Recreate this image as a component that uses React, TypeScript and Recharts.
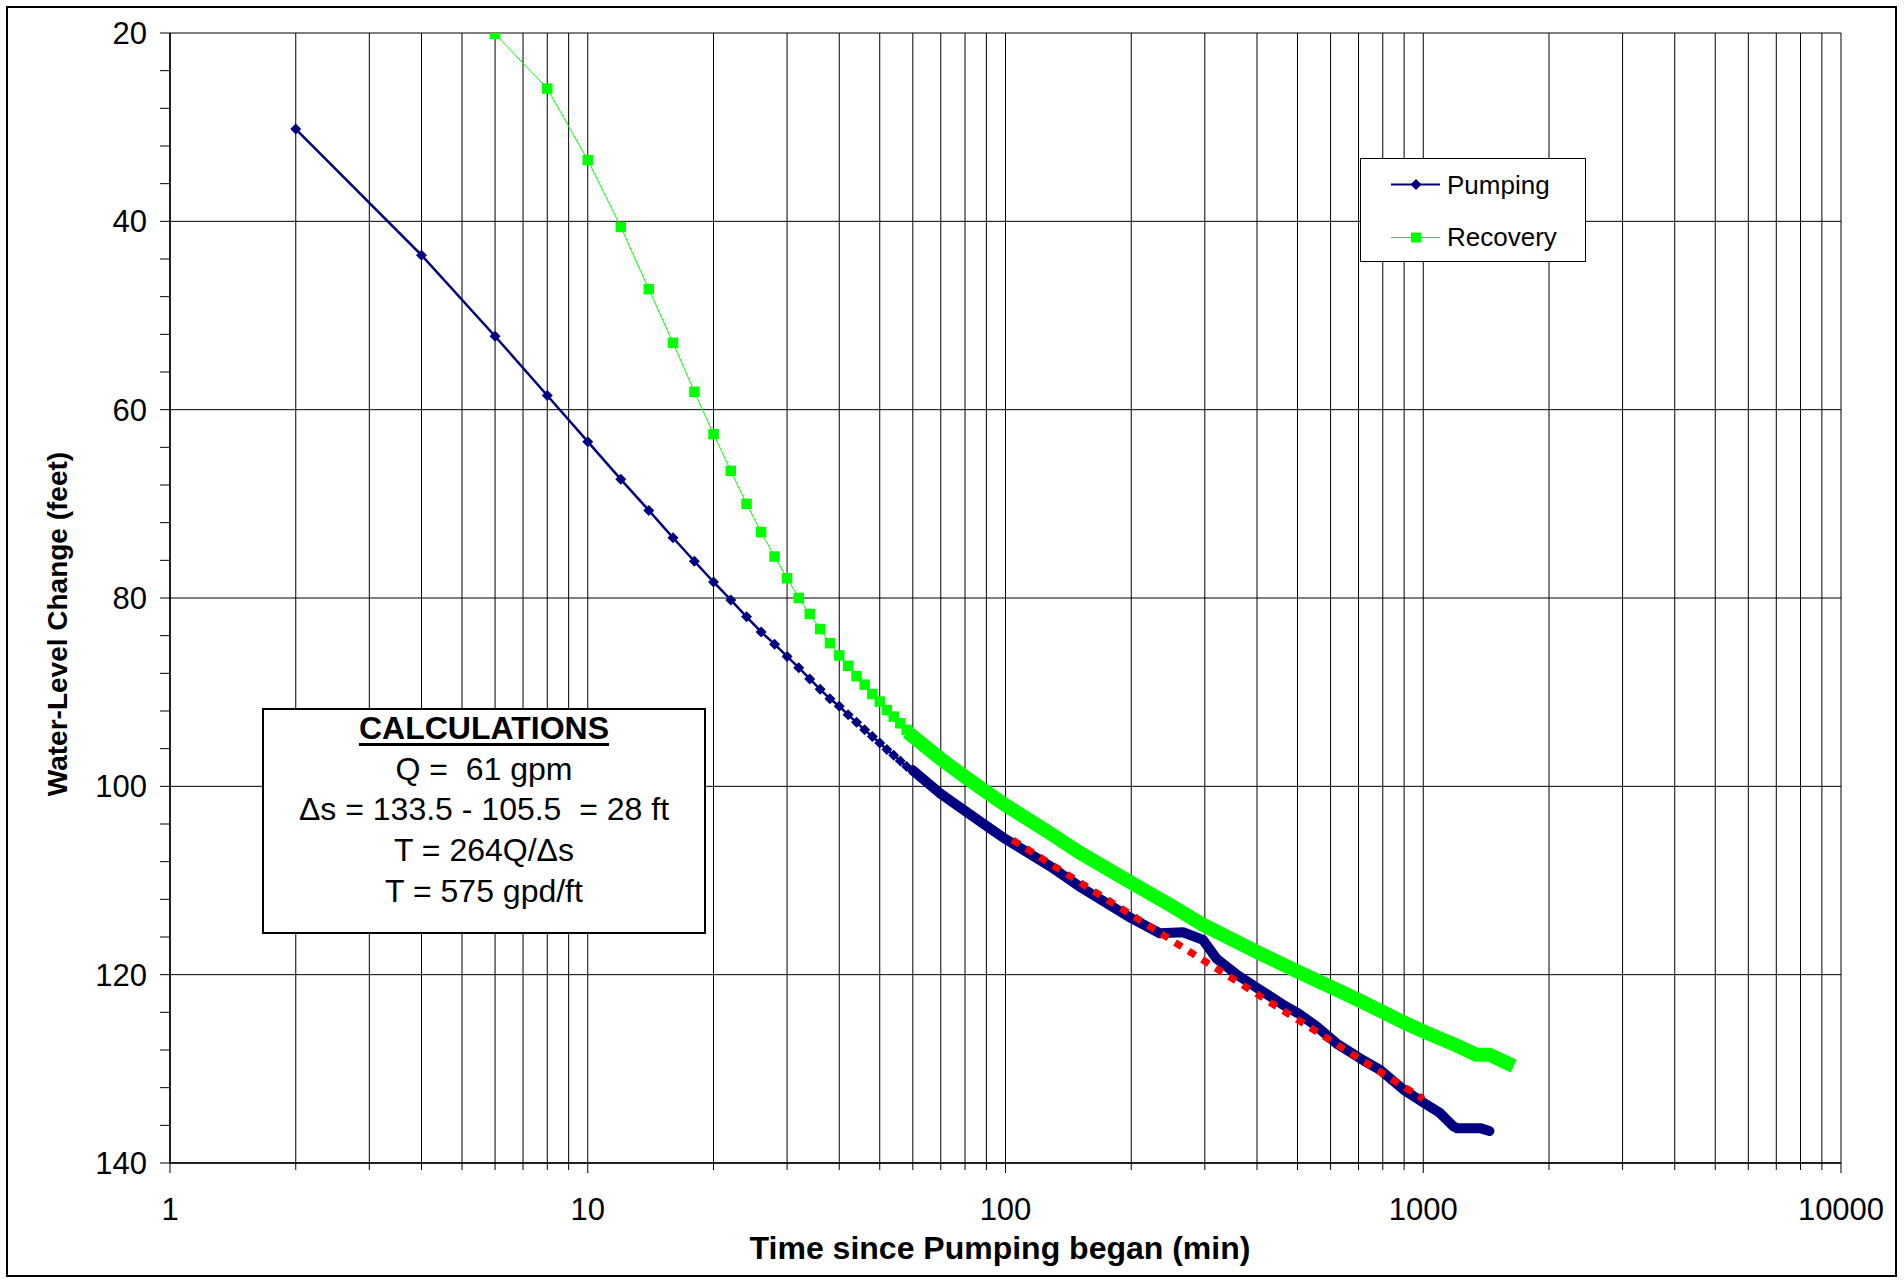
import React from "react";
import { LineChart, Line, XAxis, YAxis, CartesianGrid, Legend } from "recharts";

// pumping: one marker every 2 min up to 60 min
const pumpingTime = [2, 4, 6, 8, 10, 12, 14, 16, 18, 20, 22, 24, 26, 28, 30, 32, 34, 36, 38, 40, 42, 44, 46, 48, 50, 52, 54, 56, 58, 60];
const pumpingLevel = [30.2, 43.6, 52.2, 58.5, 63.4, 67.4, 70.7, 73.6, 76.1, 78.3, 80.2, 82.0, 83.6, 84.9, 86.2, 87.4, 88.6, 89.7, 90.7, 91.5, 92.4, 93.2, 94.0, 94.7, 95.4, 96.1, 96.7, 97.3, 97.9, 98.3];

// after 60 min the markers merge into a solid band
const pumpingDenseTime = [60, 70, 80, 90, 100, 128, 150, 200, 234, 266, 297, 320, 358, 400, 462, 502, 556, 620, 719, 788, 896, 1010, 1097, 1138, 1180, 1205, 1300, 1368, 1440];
const pumpingDenseLevel = [98.3, 100.8, 102.6, 104.2, 105.6, 108.5, 110.6, 114.0, 115.6, 115.5, 116.3, 118.3, 120.0, 121.4, 123.2, 124.1, 125.5, 127.3, 129.1, 130.1, 132.2, 133.7, 134.7, 135.4, 136.1, 136.3, 136.3, 136.3, 136.6];

const recoveryTime = [6, 8, 10, 12, 14, 16, 18, 20, 22, 24, 26, 28, 30, 32, 34, 36, 38, 40, 42, 44, 46, 48, 50, 52, 54, 56, 58, 60];
const recoveryLevel = [20.1, 25.9, 33.5, 40.6, 47.2, 52.9, 58.1, 62.6, 66.5, 70.0, 73.0, 75.6, 77.9, 80.0, 81.7, 83.3, 84.8, 86.1, 87.2, 88.3, 89.2, 90.2, 91.0, 91.9, 92.6, 93.3, 94.0, 94.7];

const recoveryDenseTime = [60, 70, 80, 90, 100, 128, 150, 201, 250, 297, 400, 502, 600, 700, 803, 900, 1010, 1200, 1340, 1440, 1590];
const recoveryDenseLevel = [94.7, 97.1, 99.0, 100.6, 102.0, 105.0, 107.0, 110.3, 112.7, 114.7, 117.6, 119.7, 121.3, 122.7, 124.0, 125.1, 126.1, 127.5, 128.5, 128.5, 129.4];

// straight-line fit used for the delta-s reading
const trendTime = [104, 1000];
const trendLevel = [105.7, 133.2];

const xTicks = [
  1, 2, 3, 4, 5, 6, 7, 8, 9,
  10, 20, 30, 40, 50, 60, 70, 80, 90,
  100, 200, 300, 400, 500, 600, 700, 800, 900,
  1000, 2000, 3000, 4000, 5000, 6000, 7000, 8000, 9000,
  10000,
];
const yTicks = [20, 24, 28, 32, 36, 40, 44, 48, 52, 56, 60, 64, 68, 72, 76, 80, 84, 88, 92, 96, 100, 104, 108, 112, 116, 120, 124, 128, 132, 136, 140];
const yMajor = [20, 40, 60, 80, 100, 120, 140];

const calcLines = ["Q =  61 gpm", "\u0394s = 133.5 - 105.5  = 28 ft", "T = 264Q/\u0394s", "T = 575 gpd/ft"];

const NAVY = "#000080";
const GREEN = "#00FF00";
const FONT = "'Liberation Sans', Arial, Helvetica, sans-serif";

const toPoints = (ts: number[], vs: number[]) => ts.map((t, i) => ({ t, v: vs[i] }));

const pumping = toPoints(pumpingTime, pumpingLevel);
const pumpingDense = toPoints(pumpingDenseTime, pumpingDenseLevel);
const recovery = toPoints(recoveryTime, recoveryLevel);
const recoveryDense = toPoints(recoveryDenseTime, recoveryDenseLevel);
const trend = toPoints(trendTime, trendLevel);

const Diamond = (props: any) => {
  const { cx, cy } = props;
  if (cx == null || cy == null) return null;
  const r = 5.5;
  return <path d={`M${cx},${cy - r}L${cx + r},${cy}L${cx},${cy + r}L${cx - r},${cy}Z`} fill={NAVY} />;
};

const Square = (props: any) => {
  const { cx, cy } = props;
  if (cx == null || cy == null) return null;
  const s = 10.5;
  return <rect x={cx - s / 2} y={cy - s / 2} width={s} height={s} fill={GREEN} />;
};

const X_TICK_SIZE = 8;
const X_TICK_MARGIN = 27;

const XTick = (props: any) => {
  const { x, y, payload } = props;
  const v = payload.value;
  const lg = Math.log10(v);
  const major = Math.abs(lg - Math.round(lg)) < 1e-9;
  const axisY = y - X_TICK_SIZE - X_TICK_MARGIN;
  return (
    <g>
      <line x1={x} x2={x} y1={axisY} y2={axisY + (major ? 10 : 7)} stroke="#000" strokeWidth={1} />
      {major && (
        <text x={x} y={y} dy="0.71em" textAnchor="middle" fontSize={31} fill="#000">
          {v}
        </text>
      )}
    </g>
  );
};

const LegendBox = () => (
  <svg width={226} height={104} style={{ display: "block" }}>
    <rect x={0.5} y={0.5} width={225} height={103} fill="#fff" stroke="#000" strokeWidth={1} />
    <line x1={31} x2={80} y1={26.5} y2={26.5} stroke={NAVY} strokeWidth={2} />
    <path d="M56,21 L61.5,26.5 L56,32 L50.5,26.5 Z" fill={NAVY} />
    <text x={87} y={36} fontSize={26} fill="#000">Pumping</text>
    <line x1={31} x2={80} y1={79.5} y2={79.5} stroke={GREEN} strokeWidth={1} />
    <rect x={51} y={74.5} width={10} height={10} fill={GREEN} />
    <text x={87} y={88} fontSize={26} fill="#000">Recovery</text>
  </svg>
);

export default function App() {
  return (
    <div
      style={{
        position: "absolute",
        left: 0,
        top: 0,
        width: 1904,
        height: 1280,
        background: "#fff",
        fontFamily: FONT,
        color: "#000",
        overflow: "hidden",
      }}
    >
      <LineChart width={1904} height={1280} margin={{ top: 33, right: 63, left: 0, bottom: 0 }}>
        <CartesianGrid stroke="#000" strokeWidth={1} horizontalValues={yMajor} verticalValues={xTicks} />
        <XAxis
          type="number"
          dataKey="t"
          scale="log"
          domain={[1, 10000]}
          allowDataOverflow
          ticks={xTicks}
          interval={0}
          height={117}
          tickSize={X_TICK_SIZE}
          tickMargin={X_TICK_MARGIN}
          tickLine={false}
          tick={<XTick />}
          axisLine={{ stroke: "#000", strokeWidth: 1.5 }}
        />
        <YAxis
          type="number"
          domain={[20, 140]}
          reversed
          allowDataOverflow
          ticks={yTicks}
          interval={0}
          width={170}
          tickSize={10}
          tickMargin={13}
          tickFormatter={(v: number) => (v % 20 === 0 ? String(v) : "")}
          tick={{ fontSize: 31, fill: "#000" }}
          tickLine={{ stroke: "#000" }}
          axisLine={{ stroke: "#000", strokeWidth: 1.5 }}
        />
        <Line
          data={recoveryDense}
          dataKey="v"
          type="linear"
          stroke={GREEN}
          strokeWidth={14}
          strokeLinecap="square"
          dot={false}
          activeDot={false}
          legendType="none"
          isAnimationActive={false}
        />
        <Line
          data={recovery}
          dataKey="v"
          name="Recovery"
          type="linear"
          stroke={GREEN}
          strokeWidth={1}
          dot={<Square />}
          activeDot={false}
          isAnimationActive={false}
        />
        <Line
          data={pumpingDense}
          dataKey="v"
          type="linear"
          stroke={NAVY}
          strokeWidth={10}
          strokeLinecap="round"
          strokeLinejoin="round"
          dot={false}
          activeDot={false}
          legendType="none"
          isAnimationActive={false}
        />
        <Line
          data={pumping}
          dataKey="v"
          name="Pumping"
          type="linear"
          stroke={NAVY}
          strokeWidth={2.5}
          dot={<Diamond />}
          activeDot={false}
          isAnimationActive={false}
        />
        <Line
          data={trend}
          dataKey="v"
          type="linear"
          stroke="#FF0000"
          strokeWidth={7}
          strokeDasharray="8 8"
          dot={false}
          activeDot={false}
          legendType="none"
          isAnimationActive={false}
        />
        <Legend
          layout="horizontal"
          verticalAlign="middle"
          align="center"
          content={() => <LegendBox />}
          wrapperStyle={{ left: 1360, top: 158, width: 226, height: 104 }}
        />
      </LineChart>

      {/* calculations box */}
      <div
        style={{
          position: "absolute",
          left: 262,
          top: 708,
          width: 444,
          height: 226,
          boxSizing: "border-box",
          border: "2px solid #000",
          background: "#fff",
          textAlign: "center",
          fontSize: 32,
          lineHeight: "40.7px",
          whiteSpace: "pre",
        }}
      >
        <div style={{ position: "relative", top: -2 }}>
          <div style={{ fontWeight: "bold", textDecoration: "underline", textDecorationThickness: 3, textUnderlineOffset: 4 }}>
            CALCULATIONS
          </div>
          {calcLines.map((l) => (
            <div key={l}>{l}</div>
          ))}
        </div>
      </div>

      {/* axis titles */}
      <div
        style={{
          position: "absolute",
          left: 0,
          top: 1232,
          width: 2000,
          textAlign: "center",
          fontSize: 32,
          fontWeight: "bold",
          lineHeight: "32px",
        }}
      >
        Time since Pumping began (min)
      </div>
      <div
        style={{
          position: "absolute",
          left: 58 - 350,
          top: 624 - 16,
          width: 700,
          height: 32,
          textAlign: "center",
          fontSize: 28,
          fontWeight: "bold",
          lineHeight: "32px",
          transform: "rotate(-90deg)",
        }}
      >
        Water-Level Change (feet)
      </div>

      {/* outer frame */}
      <div
        style={{
          position: "absolute",
          left: 6,
          top: 6,
          width: 1891,
          height: 1271,
          boxSizing: "border-box",
          border: "2px solid #000",
          pointerEvents: "none",
        }}
      />
    </div>
  );
}
